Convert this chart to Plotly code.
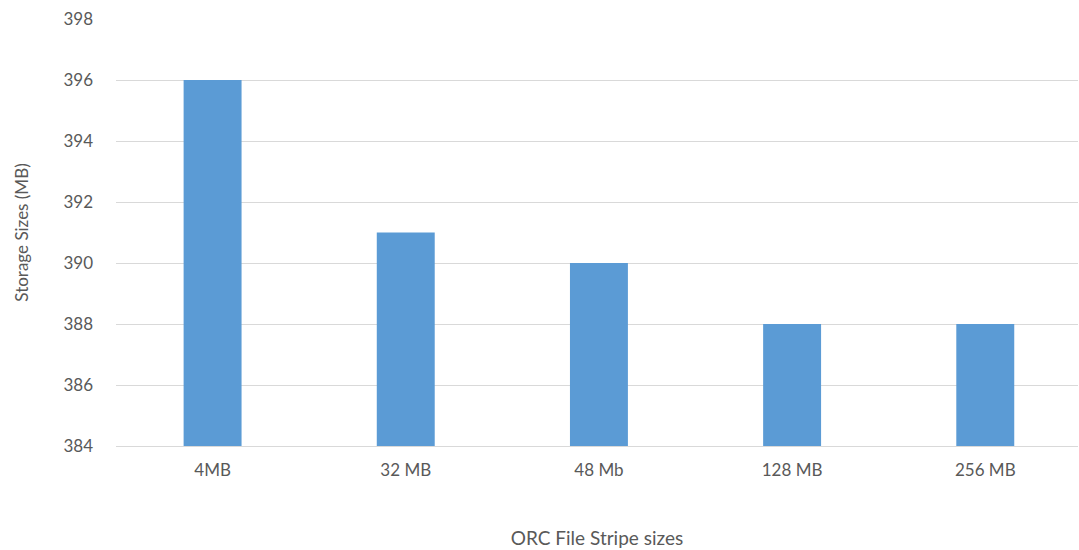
import plotly.graph_objects as go

# Storage size of the ORC table for each stripe size
stripe_sizes = ["4MB", "32 MB", "48 Mb", "128 MB", "256 MB"]
storage_mb = [396, 391, 390, 388, 388]
y_ticks = [384, 386, 388, 390, 392, 394, 396, 398]

BAR_BLUE = "#5B9BD5"
TEXT_GREY = "#595959"
GRID_GREY = "#D9D9D9"
FONT = "Lato, 'Open Sans', sans-serif"

fig = go.Figure(
    go.Bar(
        x=stripe_sizes,
        y=storage_mb,
        marker=dict(color=BAR_BLUE, line=dict(width=0)),
        width=0.30,
    )
)

fig.update_layout(
    width=1079,
    height=550,
    margin=dict(l=116, r=1, t=19, b=104),
    paper_bgcolor="white",
    plot_bgcolor="white",
    showlegend=False,
    font=dict(family=FONT, size=17, color=TEXT_GREY),
)

fig.update_xaxes(
    type="category",
    range=[-0.5, 4.48],
    showgrid=False,
    showline=True,
    linecolor=GRID_GREY,
    linewidth=1,
    ticks="",
    ticklabelstandoff=9,
    tickfont=dict(family=FONT, size=17, color=TEXT_GREY),
    title=dict(text="ORC File Stripe sizes", font=dict(family=FONT, size=19, color=TEXT_GREY), standoff=52),
)

# axis floor at 384 clips the bars so they start at the bottom gridline
fig.update_yaxes(
    range=[384, 398],
    tickvals=y_ticks,
    showgrid=True,
    gridcolor=GRID_GREY,
    gridwidth=1,
    zeroline=False,
    showline=False,
    ticks="",
    ticklabelstandoff=22,
    tickfont=dict(family=FONT, size=17, color=TEXT_GREY),
    title=dict(text="Storage Sizes (MB)", font=dict(family=FONT, size=17, color=TEXT_GREY), standoff=30),
)

fig.write_html("out.html")
